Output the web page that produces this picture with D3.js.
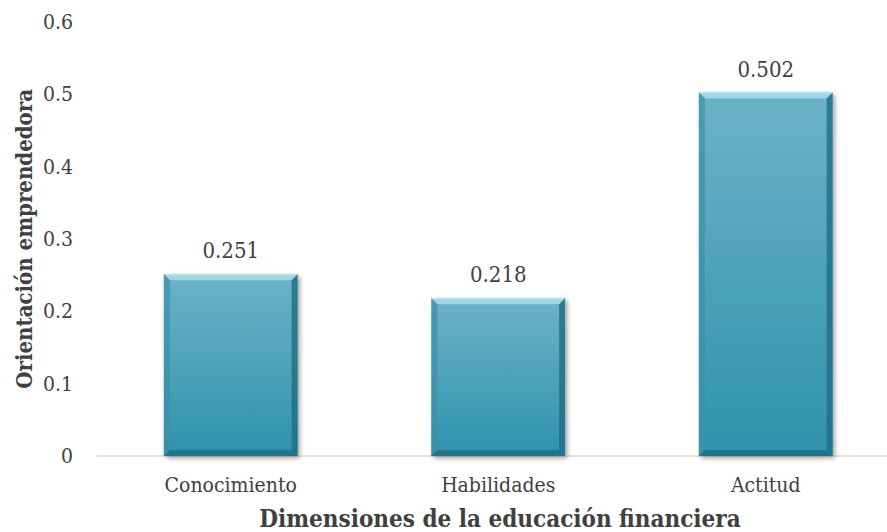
<!DOCTYPE html>
<html>
<head>
<meta charset="utf-8">
<script src="https://cdn.jsdelivr.net/npm/d3@7"></script>
<style>
  html, body { margin: 0; padding: 0; background: #fff; }
  svg { display: block; }
  text { font-family: "DejaVu Serif Condensed", "Liberation Serif", serif; fill: #404040; }
</style>
</head>
<body>
<svg id="chart" width="887" height="532"></svg>
<script>
// Dimensiones y valores
const categories = ["Conocimiento", "Habilidades", "Actitud"];
const values = [0.251, 0.218, 0.502];
const yTicks = [0, 0.1, 0.2, 0.3, 0.4, 0.5, 0.6];
const xTitle = "Dimensiones de la educación financiera";
const yTitle = "Orientación emprendedora";

const svg = d3.select("#chart");
const W = 887, H = 532;
const plot = { left: 97, right: 899.5, top: 21.6, bottom: 456 };
const fontStack = '"DejaVu Serif Condensed", "Liberation Serif", serif';

const x = d3.scaleBand()
  .domain(categories)
  .range([plot.left, plot.right])
  .paddingInner(0.5)
  .paddingOuter(0.25);

const y = d3.scaleLinear()
  .domain([0, 0.6])
  .range([plot.bottom, plot.top]);

const defs = svg.append("defs");

// vertical gradient of the bar face
const grad = defs.append("linearGradient")
  .attr("id", "barFace").attr("x1", 0).attr("y1", 0).attr("x2", 0).attr("y2", 1);
grad.append("stop").attr("offset", "0%").attr("stop-color", "#6cb2c8");
grad.append("stop").attr("offset", "100%").attr("stop-color", "#2f92ad");

// soft shadow around each bar
const shadow = defs.append("filter").attr("id", "barShadow")
  .attr("x", "-10%").attr("y", "-10%").attr("width", "130%").attr("height", "130%");
shadow.append("feGaussianBlur").attr("in", "SourceAlpha").attr("stdDeviation", 2.5).attr("result", "b");
shadow.append("feOffset").attr("in", "b").attr("dx", 2).attr("dy", 2).attr("result", "o");
shadow.append("feComponentTransfer").attr("in", "o").attr("result", "s")
  .append("feFuncA").attr("type", "linear").attr("slope", 0.4);
const merge = shadow.append("feMerge");
merge.append("feMergeNode").attr("in", "s");
merge.append("feMergeNode").attr("in", "SourceGraphic");

// x axis baseline
svg.append("line")
  .attr("x1", plot.left).attr("x2", W)
  .attr("y1", y(0)).attr("y2", y(0))
  .attr("stroke", "#d9d9d9").attr("stroke-width", 1.5);

// y axis tick labels
const yAxis = d3.axisLeft(y).tickValues(yTicks).tickSize(0).tickPadding(0)
  .tickFormat(d => d === 0 ? "0" : d3.format(".1f")(d));
const gy = svg.append("g").attr("transform", `translate(${plot.left - 24},0)`).call(yAxis);
gy.select(".domain").remove();
gy.selectAll("text").style("font-size", "21px").attr("fill", "#404040")
  .style("font-family", fontStack);

// bars with bevel
const bevel = 6;
const bars = svg.append("g").selectAll("g.bar")
  .data(categories.map((c, i) => ({ c, v: values[i] })))
  .join("g").attr("class", "bar");

bars.each(function(d) {
  const g = d3.select(this);
  const x0 = x(d.c), x1 = x(d.c) + x.bandwidth();
  const y0 = y(d.v), y1 = y(0);
  g.append("rect")
    .attr("x", x0).attr("y", y0)
    .attr("width", x1 - x0).attr("height", y1 - y0)
    .attr("fill", "url(#barFace)")
    .attr("filter", "url(#barShadow)");
  const b = bevel;
  // top edge highlight
  g.append("polygon")
    .attr("points", [[x0, y0], [x1, y0], [x1 - b, y0 + b], [x0 + b, y0 + b]].join(" "))
    .attr("fill", "#9dd5e5");
  // left edge
  g.append("polygon")
    .attr("points", [[x0, y0], [x0 + b, y0 + b], [x0 + b, y1 - b], [x0, y1]].join(" "))
    .attr("fill", "#3f8ea6").attr("opacity", 0.7);
  // right edge
  g.append("polygon")
    .attr("points", [[x1, y0], [x1, y1], [x1 - b, y1 - b], [x1 - b, y0 + b]].join(" "))
    .attr("fill", "#1f6e85").attr("opacity", 0.8);
  // bottom edge
  g.append("polygon")
    .attr("points", [[x0, y1], [x0 + b, y1 - b], [x1 - b, y1 - b], [x1, y1]].join(" "))
    .attr("fill", "#1e6f86").attr("opacity", 0.85);
  // top edge bright line
  g.append("line")
    .attr("x1", x0 + 1).attr("x2", x1 - 1).attr("y1", y0 + 0.5).attr("y2", y0 + 0.5)
    .attr("stroke", "#c4eaf3").attr("stroke-width", 1);
});

// value labels
bars.append("text")
  .attr("x", d => x(d.c) + x.bandwidth() / 2)
  .attr("y", d => y(d.v) - 16)
  .attr("text-anchor", "middle")
  .style("font-size", "22px")
  .text(d => d3.format(".3f")(d.v));

// category labels
svg.append("g").selectAll("text")
  .data(categories).join("text")
  .attr("x", d => x(d) + x.bandwidth() / 2)
  .attr("y", y(0) + 36)
  .attr("text-anchor", "middle")
  .style("font-size", "21px")
  .text(d => d);

// axis titles
svg.append("text")
  .attr("x", 500).attr("y", 527)
  .attr("text-anchor", "middle")
  .style("font-size", "24px").style("font-weight", "bold")
  .text(xTitle);

svg.append("text")
  .attr("transform", `translate(24,${(plot.top + plot.bottom) / 2}) rotate(-90)`)
  .attr("text-anchor", "middle")
  .attr("dy", "0.35em")
  .style("font-size", "22px").style("font-weight", "bold")
  .text(yTitle);
</script>
</body>
</html>
